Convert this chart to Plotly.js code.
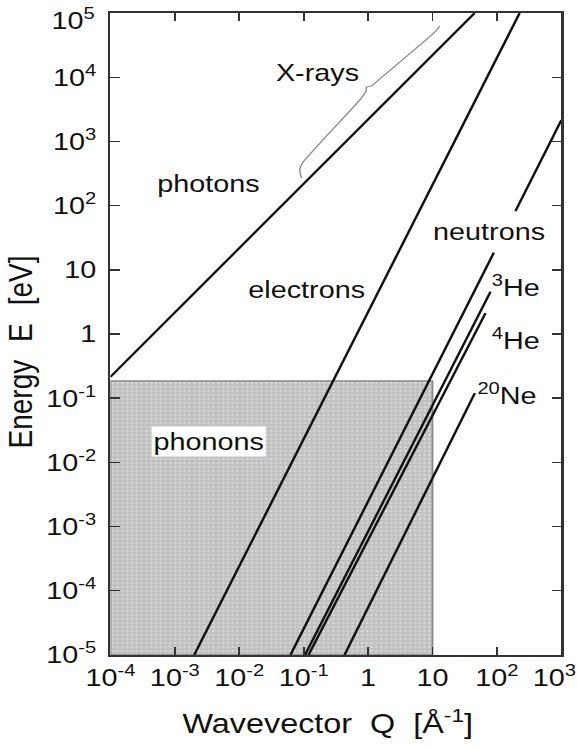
<!DOCTYPE html>
<html>
<head>
<meta charset="utf-8">
<script src="https://cdn.plot.ly/plotly-3.0.1.min.js"></script>
<style>
html,body{margin:0;padding:0;background:#fff;overflow:hidden;}
#chart{width:481px;height:747px;transform:scale(1.19958,1);transform-origin:0 0;}
</style>
</head>
<body>
<div id="chart"></div>
<script>
// Dispersion lines (Q in 1/Å, E in eV)
const photonQ = [1e-4, 45];
const photonE = [0.215, 1e5];
const electronQ = [2.0e-3, 225];
const electronE = [1e-5, 1e5];
const neutronQ = [0.0624, 89.5, null, 194, 1000];
const neutronE = [1e-5, 18.5, null, 82, 2150];
const he3Q = [0.105, 79.6];
const he3E = [1e-5, 4.56];
const he4Q = [0.119, 66.5];
const he4E = [1e-5, 2.12];
const ne20Q = [0.431, 45.4];
const ne20E = [1e-5, 0.12];
// Phonon region
const phononQ = [1e-4, 10, 10, 1e-4, 1e-4];
const phononE = [1e-5, 1e-5, 0.185, 0.185, 1e-5];
// X-ray brace
const braceQ = [0.0925, 0.0870, 0.0957, 0.762, 0.930, 0.944, 1.13, 1.45, 10.0, 11.97, 12.85];
const braceE = [269, 359, 461, 4571, 6095, 7035, 7295, 9036, 47100, 56360, 62740];

const tickQ = [1e-4, 1e-3, 1e-2, 1e-1, 1, 10, 100, 1000];
const tickQText = ['10<sup>-4</sup>', '10<sup>-3</sup>', '10<sup>-2</sup>', '10<sup>-1</sup>', '1', '10', '10<sup>2</sup>', '10<sup>3</sup>\u00a0\u2009'];
const tickE = [1e-5, 1e-4, 1e-3, 1e-2, 1e-1, 1, 10, 1e2, 1e3, 1e4];
const tickEText = ['10<sup>-5</sup>', '10<sup>-4</sup>', '10<sup>-3</sup>', '10<sup>-2</sup>', '10<sup>-1</sup>', '1', '10', '10<sup>2</sup>', '10<sup>3</sup>', '10<sup>4</sup>'];
const topTickE = 1e5;
const topTickText = '10<sup>5</sup>';

const labels = [
  {text: 'X-rays', x: 0.459, y: 0.908},
  {text: 'photons', x: 0.217, y: 0.734},
  {text: 'electrons', x: 0.435, y: 0.569},
  {text: 'neutrons', x: 0.840, y: 0.660},
  {text: '<sup>3</sup>He', x: 0.898, y: 0.575},
  {text: '<sup>4</sup>He', x: 0.898, y: 0.492},
  {text: '<sup>20</sup>Ne', x: 0.878, y: 0.407}
];

const FONT = 'Liberation Sans, Arial, sans-serif';
const lineStyle = {color: '#111', width: 2.1};
const SP = '\u00a0\u00a0';
const SPY = '\u00a0\u00a0\u200a';

const traces = [
  {x: phononQ, y: phononE, mode: 'lines', fill: 'toself', fillcolor: '#c0c0c0',
   fillpattern: {shape: '.', bgcolor: '#c0c0c0', fgcolor: '#d6d6d6', size: 4, solidity: 0.3},
   line: {color: '#8a8a8a', width: 1.5}, hoverinfo: 'skip'},
  {x: photonQ, y: photonE, mode: 'lines', line: lineStyle},
  {x: electronQ, y: electronE, mode: 'lines', line: lineStyle},
  {x: neutronQ, y: neutronE, mode: 'lines', line: lineStyle, connectgaps: false},
  {x: he3Q, y: he3E, mode: 'lines', line: lineStyle},
  {x: he4Q, y: he4E, mode: 'lines', line: lineStyle},
  {x: ne20Q, y: ne20E, mode: 'lines', line: lineStyle},
  {x: braceQ, y: braceE, mode: 'lines', line: {color: '#8c8c8c', width: 1.2, shape: 'spline', smoothing: 0.6}}
];

const annotations = labels.map(l => ({
  text: l.text, x: l.x, y: l.y, xref: 'paper', yref: 'paper', showarrow: false,
  font: {family: FONT, size: 24, color: '#111'}, xanchor: 'center', yanchor: 'middle'
}));
annotations.push({
  text: 'phonons', x: 0.217, y: 0.333, xref: 'paper', yref: 'paper', showarrow: false,
  font: {family: FONT, size: 24, color: '#111'}, bgcolor: '#ffffff', borderpad: 1,
  xanchor: 'center', yanchor: 'middle'
});
// top y tick label, nudged down so it stays inside the page (as in the reference)
annotations.push({
  text: topTickText, x: -0.0288, xref: 'paper', y: Math.log10(topTickE), yref: 'y', yshift: -6,
  showarrow: false, font: {family: FONT, size: 24, color: '#111'}, xanchor: 'right', yanchor: 'middle'
});
// y-axis title
annotations.push({
  text: 'Energy' + SPY + 'E' + SPY + '[eV]', x: -0.198, y: 0.472, xref: 'paper', yref: 'paper',
  showarrow: false, textangle: -90, font: {family: FONT, size: 28, color: '#111'},
  xanchor: 'center', yanchor: 'middle'
});
// x-axis title
annotations.push({
  text: 'Wavevector' + SP + 'Q' + SP + '[Å<sup>-1</sup>]', x: 0.481, y: -0.104, xref: 'paper', yref: 'paper',
  showarrow: false, font: {family: FONT, size: 27, color: '#111'},
  xanchor: 'center', yanchor: 'middle'
});

const axisCommon = {
  type: 'log', showgrid: false, zeroline: false, showline: true, linecolor: '#333', linewidth: 2,
  mirror: 'ticks', ticks: 'inside', ticklen: 8, tickwidth: 1.4, tickcolor: '#333',
  tickfont: {family: FONT, size: 24, color: '#111'}, tickmode: 'array', ticklabeloverflow: 'allow'
};

const layout = {
  width: 481, height: 747,
  margin: {l: 92, r: 13, t: 13, b: 92},
  paper_bgcolor: '#fff', plot_bgcolor: '#fff',
  showlegend: false,
  font: {family: FONT, color: '#111'},
  xaxis: Object.assign({}, axisCommon, {
    range: [-4.001, 3.001], tickvals: tickQ, ticktext: tickQText, ticklabelstandoff: 0
  }),
  yaxis: Object.assign({}, axisCommon, {
    range: [-5.001, 5.001], tickvals: tickE.concat([topTickE]), ticktext: tickEText.concat(['']), ticklabelstandoff: 5
  }),
  annotations: annotations
};

Plotly.newPlot('chart', traces, layout, {displayModeBar: false, staticPlot: true}).then(() => {
  document.querySelectorAll('#chart text').forEach(t => {
    const fs = window.getComputedStyle(t).fontSize;
    if (fs) t.setAttribute('font-size', fs);
  });
});
</script>
</body>
</html>
